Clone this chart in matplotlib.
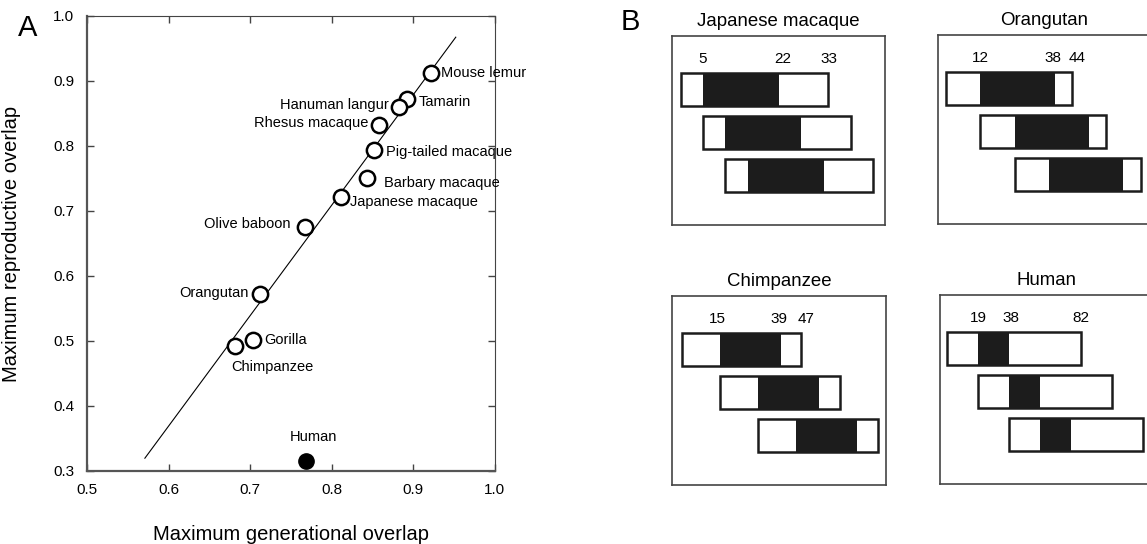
import numpy as np
import matplotlib
matplotlib.use('Agg')
import matplotlib.pyplot as plt
from matplotlib.patches import Rectangle
from matplotlib.transforms import offset_copy

plt.rcParams['font.family'] = ['Liberation Sans', 'DejaVu Sans']

# Panel A data
species = ['Mouse lemur', 'Tamarin', 'Hanuman langur', 'Rhesus macaque',
           'Pig-tailed macaque', 'Barbary macaque', 'Japanese macaque',
           'Olive baboon', 'Orangutan', 'Gorilla', 'Chimpanzee']
gen_overlap = [0.922, 0.892, 0.882, 0.858, 0.852, 0.843, 0.811, 0.767, 0.712, 0.704, 0.682]
repro_overlap = [0.913, 0.872, 0.860, 0.832, 0.794, 0.751, 0.722, 0.676, 0.573, 0.501, 0.493]
human_gen = 0.769
human_repro = 0.315

# fitted line
fit_slope = 1.70
fit_intercept = -0.651
fit_x_range = [0.571, 0.952]

# Panel B data: first reproduction, last reproduction, lifespan (years)
box_species = ['Japanese macaque', 'Orangutan', 'Chimpanzee', 'Human']
first_repro = [5, 12, 15, 19]
last_repro = [22, 38, 39, 38]
lifespan = [33, 44, 47, 82]

# label offsets in pixels (dx, dy, ha, va)
label_offsets = {
    'Mouse lemur': (10, 0, 'left', 'center'),
    'Tamarin': (12, -3, 'left', 'center'),
    'Hanuman langur': (-10, 2, 'right', 'center'),
    'Rhesus macaque': (-11, 2, 'right', 'center'),
    'Pig-tailed macaque': (12, -2, 'left', 'center'),
    'Barbary macaque': (17, -5, 'left', 'center'),
    'Japanese macaque': (9, -5, 'left', 'center'),
    'Olive baboon': (-14, 3, 'right', 'center'),
    'Orangutan': (-11, 1, 'right', 'center'),
    'Gorilla': (11, 0, 'left', 'center'),
    'Chimpanzee': (-4, -21, 'left', 'center'),
}

fig = plt.figure(figsize=(11.47, 5.44), dpi=100)

# ---- Panel A ----
ax = fig.add_axes([0.0758, 0.1342, 0.3557, 0.8364])
fx = np.array(fit_x_range)
ax.plot(fx, fit_slope * fx + fit_intercept, color='black', lw=0.8, zorder=1)
ax.plot(gen_overlap, repro_overlap, 'o', ms=11, mfc='white', mec='black',
        mew=1.8, zorder=3)
ax.plot([human_gen], [human_repro], 'o', ms=11, mfc='black', mec='black', zorder=3)

for name, x, y in zip(species, gen_overlap, repro_overlap):
    dx, dy, ha, va = label_offsets[name]
    ax.annotate(name, (x, y), xytext=(dx, dy), textcoords='offset pixels',
                ha=ha, va=va, fontsize=10.5)
ax.annotate('Human', (human_gen, human_repro), xytext=(7, 24),
            textcoords='offset pixels', ha='center', va='center', fontsize=10.5)

ax.set_xlim(0.5, 1.0)
ax.set_ylim(0.3, 1.0)
ax.set_xticks(np.arange(0.5, 1.01, 0.1))
ax.set_yticks(np.arange(0.3, 1.01, 0.1))
ax.set_xticklabels(['0.5', '0.6', '0.7', '0.8', '0.9', '1.0'])
ax.set_yticklabels(['0.3', '0.4', '0.5', '0.6', '0.7', '0.8', '0.9', '1.0'])
ax.tick_params(direction='in', top=True, right=True, length=5, width=1,
               color='#444444', labelsize=11)
ax.tick_params(axis='y', pad=9)
ax.tick_params(axis='x', pad=9)
for side in ['top', 'right']:
    ax.spines[side].set_linewidth(0.8)
    ax.spines[side].set_color('#444444')
for side in ['bottom', 'left']:
    ax.spines[side].set_linewidth(1.6)
    ax.spines[side].set_color('#555555')
ax.set_xlabel('Maximum generational overlap', fontsize=14.5, labelpad=20)
ax.set_ylabel('Maximum reproductive overlap', fontsize=14.5, labelpad=23)

fig.text(28 / 1147, 1 - 28 / 544, 'A', fontsize=21, ha='center', va='center')
fig.text(630 / 1147, 1 - 22 / 544, 'B', fontsize=21, ha='center', va='center')

# ---- Panel B ----
box_pos = [
    [671.7, 225.3],
    [937.7, 224.3],
    [672.3, 485.3],
    [940.0, 484.3],
]
box_xlim = [(-2.0, 45.7), (-2.8, 71.6), (-3.7, 80.1), (-4.5, 126.2)]
# horizontal nudges (pixels) for the three age labels in each box
num_nudge = [(0, 4, 1), (0, -2, 5), (-3, -2, 5), (0, 2, 0)]
box_w, box_h = 213.3, 189.3
row_h = 0.77

for i, name in enumerate(box_species):
    left, bottom = box_pos[i]
    bx = fig.add_axes([left / 1147, 1 - bottom / 544, box_w / 1147, box_h / 544])
    bx.set_xlim(*box_xlim[i])
    bx.set_ylim(3.16, -1.26)
    bx.set_xticks([])
    bx.set_yticks([])
    for s in bx.spines.values():
        s.set_linewidth(1.2)
        s.set_color('#444444')
    bx.set_title(name, fontsize=13.4, pad=7)

    for r in range(3):
        start = r * first_repro[i]
        y0 = r - row_h / 2
        bx.add_patch(Rectangle((start + first_repro[i], y0),
                               last_repro[i] - first_repro[i], row_h,
                               facecolor='#1c1c1c', edgecolor='none', zorder=2))
        bx.add_patch(Rectangle((start, y0), lifespan[i], row_h,
                               facecolor='none', edgecolor='#1c1c1c', lw=1.8, zorder=3))

    ages = [first_repro[i], last_repro[i], lifespan[i]]
    for v, nd in zip(ages, num_nudge[i]):
        tr = offset_copy(bx.transData, fig=fig, x=nd, y=0, units='dots')
        bx.text(v, -0.55, str(v), ha='center', va='bottom', fontsize=11,
                transform=tr)

fig.savefig('out.png', dpi=100)
